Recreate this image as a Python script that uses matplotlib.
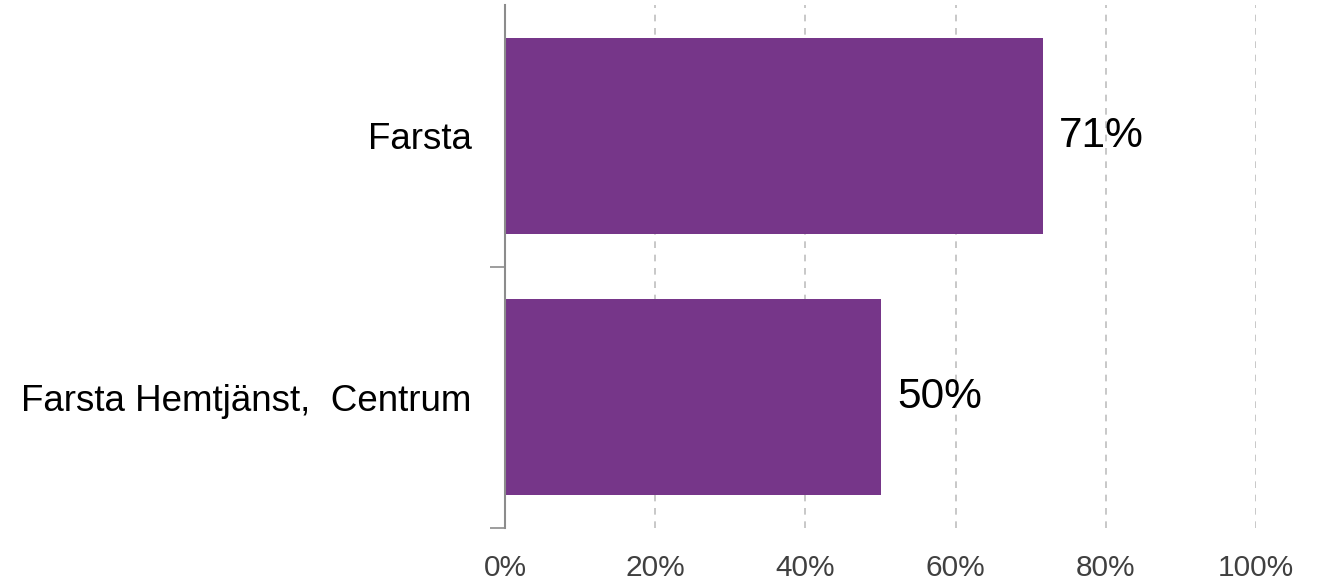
import matplotlib
matplotlib.use("Agg")
import matplotlib.pyplot as plt
from matplotlib.ticker import FixedLocator, PercentFormatter

plt.rcParams["font.family"] = ["Liberation Sans", "DejaVu Sans"]

# data (bottom to top)
categories = ["Farsta Hemtjänst,  Centrum", "Farsta"]
values = [50.0, 71.6]
value_labels = ["50%", "71%"]
x_ticks = [0, 20, 40, 60, 80, 100]

BAR_COLOR = "#763689"

fig = plt.figure(figsize=(13.17, 5.87), dpi=100)
ax = fig.add_axes([505 / 1317, 1 - 528 / 587, (1256 - 505) / 1317, (528 - 5) / 587])

pos = list(range(len(categories)))
ax.barh(pos, values, height=0.75, color=BAR_COLOR, zorder=3)

for p, v, lab in zip(pos, values, value_labels):
    ax.text(v + 2.2, p, lab, va="center", ha="left", fontsize=30.5, color="black", zorder=4)

ax.set_xlim(0, 100)
ax.set_ylim(-0.5, 1.5)
ax.set_xticks(x_ticks)
ax.xaxis.set_major_formatter(PercentFormatter(decimals=0))
ax.tick_params(axis="x", length=0, labelsize=21.5, labelcolor="#404040", pad=19)

ax.set_yticks(pos)
ax.set_yticklabels(categories)
ax.tick_params(axis="y", which="major", length=0, labelsize=26.5, labelcolor="black", pad=24)
ax.yaxis.set_minor_locator(FixedLocator([-0.5, 0.5]))
ax.tick_params(axis="y", which="minor", length=11, width=1.2, color="#8c8c8c")

ax.grid(axis="x", linestyle=(0, (4, 4)), color="#bfbfbf", linewidth=1.2, zorder=0)
ax.set_axisbelow(True)
for s in ["top", "right", "bottom"]:
    ax.spines[s].set_visible(False)
ax.spines["left"].set_color("#8c8c8c")
ax.spines["left"].set_linewidth(1.5)
ax.spines["left"].set_zorder(5)

fig.savefig("out.png", dpi=100)
